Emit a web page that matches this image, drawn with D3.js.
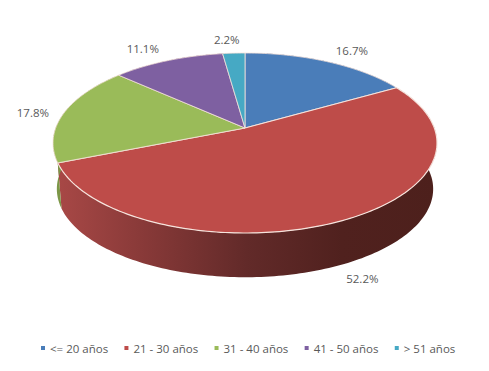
<!DOCTYPE html>
<meta charset="utf-8">
<script src="https://d3js.org/d3.v7.min.js"></script>
<style>
body { margin: 0; background: #fff; }
text { font-family: "Open Sans", sans-serif; fill: #595959; }
.lab { font-size: 11.5px; text-anchor: middle; }
.leg { font-size: 11.5px; }
</style>
<div id="my_dataviz"></div>
<script>
// data
const categories = ["<= 20 años", "21 - 30 años", "31 - 40 años", "41 - 50 años", "> 51 años"];
const percents = [16.7, 52.2, 17.8, 11.1, 2.2];
const colors = ["#4a7db9", "#be4c49", "#9abb59", "#7e60a1", "#46a9c4"];

const width = 489, height = 371;

const svg = d3.select("#my_dataviz").append("svg")
    .attr("width", width)
    .attr("height", height)
    .style("display", "block");

// pie seen in perspective: the centre of the disc sits above the centre of the ellipse
const cx = 245, persp = 1 / 6;
const rimK = 192 * Math.sqrt(1 - persp * persp);
function topPt(a, r) {
    const u = r * Math.sin(a), v = r * Math.cos(a), w = 1 + persp * v;
    return [cx + rimK * u / w, (128 - 66.17 * v) / w];
}
// bottom of the wall, a bit narrower
function bottomPt(a) {
    const p = topPt(a, 1);
    return [cx + (p[0] - cx) * 0.98, 189 + (p[1] - 143) * 0.98];
}

const pie = d3.pie().sort(null).value(d => d).startAngle(0).endAngle(2 * Math.PI);
const arcs = pie(percents);
const line = d3.line();

function samples(d) {
    const n = Math.max(2, Math.ceil((d.endAngle - d.startAngle) / 0.02));
    return d3.range(n + 1).map(i => d.startAngle + (d.endAngle - d.startAngle) * i / n);
}

// gradient for the wall
const grad = svg.append("defs").append("linearGradient")
    .attr("id", "wall")
    .attr("gradientUnits", "userSpaceOnUse")
    .attr("x1", 57).attr("x2", 437).attr("y1", 0).attr("y2", 0);
grad.selectAll("stop")
    .data([[0, "#a84846"], [0.25, "#853837"], [0.5, "#622a29"], [0.75, "#50211e"], [1, "#4d201c"]])
    .enter().append("stop")
    .attr("offset", d => d[0])
    .attr("stop-color", d => d[1]);

// walls first, the top faces cover the back ones
svg.selectAll(".wall")
    .data(arcs)
    .enter().append("path")
    .attr("class", "wall")
    .attr("fill", (d, i) => i == 1 ? "url(#wall)" : d3.color(colors[i]).darker(0.6))
    .attr("d", d => {
        const as = samples(d);
        return line(as.map(a => topPt(a, 1)).concat(as.slice().reverse().map(bottomPt))) + "Z";
    });

// slices
svg.selectAll(".slice")
    .data(arcs)
    .enter().append("path")
    .attr("class", "slice")
    .attr("fill", (d, i) => colors[i])
    .attr("stroke", "#f6e3dc")
    .attr("stroke-width", (d, i) => i == 1 ? 1.2 : 0.8)
    .attr("stroke-linejoin", "round")
    .attr("d", d => line([topPt(0, 0)].concat(samples(d).map(a => topPt(a, 1)))) + "Z");

// data labels, nudged from the rim point at the middle of each slice
const nudge = [[24, -7], [20, 62], [-31, 4], [-25, -8], [-7, -9]];
svg.selectAll(".lab")
    .data(arcs)
    .enter().append("text")
    .attr("class", "lab")
    .attr("x", (d, i) => topPt((d.startAngle + d.endAngle) / 2, 1)[0] + nudge[i][0])
    .attr("y", (d, i) => topPt((d.startAngle + d.endAngle) / 2, 1)[1] + nudge[i][1])
    .text(d => d.value.toFixed(1) + "%");

// legend
const legend = svg.append("g");
let lx = 41;
categories.forEach((c, i) => {
    legend.append("rect")
        .attr("x", lx).attr("y", 346)
        .attr("width", 4).attr("height", 4)
        .attr("fill", colors[i]);
    const t = legend.append("text")
        .attr("class", "leg")
        .attr("x", lx + 9).attr("y", 353)
        .text(c);
    lx += 9 + t.node().getComputedTextLength() + 16.3;
});
</script>
